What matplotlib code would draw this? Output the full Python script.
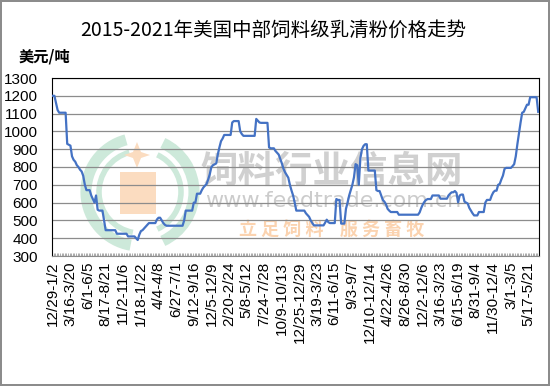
import numpy as np
import matplotlib
matplotlib.use('Agg')
import matplotlib.pyplot as plt
from matplotlib.patches import Arc, Rectangle, Polygon

plt.rcParams['font.family'] = ['Liberation Sans', 'Noto Sans CJK SC', 'DejaVu Sans']

title = '2015-2021年美国中部饲料级乳清粉价格走势'
unit = '美元/吨'

# weekly prices (USD/t), split in six stretches
price_a = [1200, 1200, 1160, 1120, 1105, 1105, 1105, 1105, 1105,
           930, 925, 920, 860, 840, 830, 810, 800, 785, 775, 750, 700,
           670, 670, 670, 640, 620, 600, 640, 560, 555, 555, 555, 500,
           445, 445, 445, 445, 445, 445, 445,
           425, 425, 425, 425, 425, 425, 425]
price_b = [410, 410, 410, 410, 410, 400, 390, 420, 440, 445, 455, 465, 475,
           485, 485, 485, 485, 485, 505, 515, 515, 500, 485, 475,
           470, 470, 470, 470, 470, 470, 470, 470, 470, 470, 470,
           500, 555, 555, 555, 555, 555, 600, 600]
price_c = [650, 650, 650, 670, 685, 695, 705, 730, 760, 800, 810, 815, 820,
           870, 910, 945, 960, 980, 980, 980, 980, 980,
           1050, 1058, 1058, 1058, 1058, 1000, 985,
           975, 975, 975, 975, 975, 975, 975, 975,
           1070, 1060, 1050, 1048, 1048, 1048, 1048, 1048]
price_d = [910, 905, 905, 905, 890, 880, 870, 845, 820, 790, 770, 755, 740,
           700, 668, 640, 600, 555, 555, 555, 555, 555, 555,
           540, 530, 520, 500, 485, 472, 472, 472, 472, 472, 472, 472,
           487, 504, 490, 485, 485, 485, 485, 620, 615, 615, 482, 482, 482,
           565, 600, 640, 670, 700, 742, 816, 810, 700, 850, 900, 919, 928, 928]
price_e = [780, 780, 780, 780, 780, 670, 665, 665, 640, 615, 605, 590, 565, 555,
           547, 547, 547, 547, 547,
           532, 532, 532, 532, 532, 532, 532, 532, 532, 532, 532, 532, 532,
           545, 570, 590, 605, 615, 620, 620, 620, 640, 640, 640, 640, 640,
           622, 622, 622, 622, 622]
price_f = [640, 650, 658, 658, 665, 655, 602, 640, 645, 645, 605, 600, 595,
           570, 555, 540, 528, 528, 528, 547, 547, 547, 547, 600, 615, 615, 615,
           640, 658, 667, 667, 700, 705, 730, 752, 790, 795, 795, 795, 795,
           805, 816, 860, 928, 990, 1050, 1105, 1110, 1130, 1150, 1150,
           1192, 1192, 1192, 1192, 1192, 1110]

# every 11th week is labelled
week_labels = ['12/29-1/2', '3/16-3/20', '6/1-6/5', '8/17-8/21', '11/2-11/6',
               '1/18-1/22', '4/4-4/8', '6/27-7/1', '9/12-9/16', '12/5-12/9',
               '2/20-2/24', '5/8-5/12', '7/24-7/28', '10/9-10/13', '12/25-12/29',
               '3/19-3/23', '6/11-6/15', '9/3-9/7', '12/10-12/14', '4/22-4/26',
               '8/26-8/30', '12/2-12/6', '3/16-3/23', '6/15-6/19', '8/31-9/4',
               '11/30-12/4', '3/1-3/5', '5/17-5/21']
label_step = 11

price = price_a + price_b + price_c + price_d + price_e + price_f
x = np.arange(len(price))

fig = plt.figure(figsize=(5.5, 3.86), dpi=100)
fig.patch.set_edgecolor('#8c8c8c')
fig.patch.set_linewidth(1.5)

# watermark layer in pixel coords
wm = fig.add_axes([0, 0, 1, 1], zorder=0)
wm.set_xlim(0, 550)
wm.set_ylim(386, 0)
wm.axis('off')
for r, lw in [(54, 8), (41, 4)]:
    wm.add_patch(Arc((140, 192), 2 * r, 2 * r, theta1=100, theta2=255,
                     color='#cde9da', lw=lw))
    wm.add_patch(Arc((140, 192), 2 * r, 2 * r, theta1=-65, theta2=65,
                     color='#cde9da', lw=lw))
wm.add_patch(Rectangle((120, 172), 36, 42, color='#fbdcc0', lw=0))
wm.add_patch(Polygon([[137, 142], [141, 152], [150, 155], [141, 158], [137, 168],
                      [133, 158], [124, 155], [133, 152]], color='#fbdcc0', lw=0))
wm.text(332, 171, '饲料行业信息网', fontsize=27, fontweight='bold', color='#d0d0d0',
        ha='center', va='center', family=['Noto Sans CJK SC'])
wm.text(333, 201, 'www.feedtrade.com.cn', fontsize=16, color='#cccccc',
        ha='center', va='center', family=['DejaVu Sans'])
wm.text(332, 229, '立 足 饲 料    服 务 畜 牧', fontsize=13, fontweight='bold',
        color='#fbd3b0', ha='center', va='center', family=['Noto Sans CJK SC'])

ax = fig.add_axes([52 / 550, 130 / 386, 487 / 550, 178 / 386], zorder=1)
ax.patch.set_alpha(0)
ax.plot(x, price, color='#4472c4', lw=1.6, zorder=3)

ax.set_xlim(-0.5, len(price) - 0.5)
ax.set_ylim(300, 1300)
ax.set_yticks(np.arange(300, 1301, 100))
ax.grid(axis='y', color='#8c8c8c', lw=0.9)
ax.tick_params(axis='y', length=0, labelsize=11, pad=10)

ax.set_xticks(np.arange(len(week_labels)) * label_step)
ax.set_xticklabels(week_labels, rotation=90, fontsize=11)
ax.tick_params(axis='x', length=0, pad=4)
ax.set_xticks(np.arange(len(price) + 1) - 0.5, minor=True)
ax.tick_params(axis='x', which='minor', direction='in', length=2.5, width=0.5,
               color='#8c8c8c')

for s in ['top', 'right', 'left']:
    ax.spines[s].set_color('black')
    ax.spines[s].set_linewidth(0.8)
ax.spines['bottom'].set_color('#8c8c8c')

fig.text(273 / 550, 1 - 30 / 386, title, ha='center', va='center', fontsize=14,
         fontweight='light', family=['Noto Sans CJK SC'])
fig.text(19 / 550, 1 - 56 / 386, unit, ha='left', va='center', fontsize=11,
         fontweight='bold', family=['Noto Sans CJK SC'])

fig.savefig('out.png', dpi=100)
